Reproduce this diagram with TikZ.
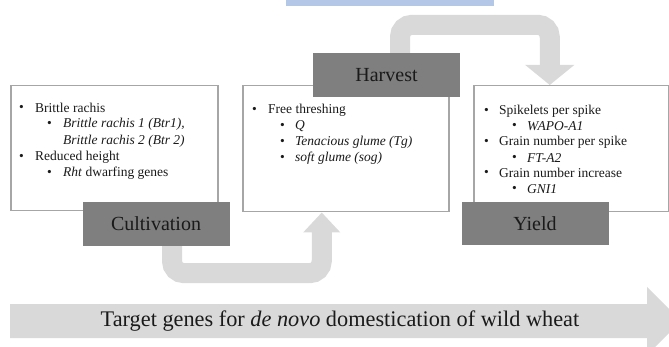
\documentclass[tikz,border=0pt]{standalone}
\usepackage{fontspec}
\setmainfont{Liberation Serif}
\usetikzlibrary{arrows.meta}

\definecolor{cadregris}{HTML}{A6A6A6}
\definecolor{etapegris}{HTML}{7F7F7F}
\definecolor{flechegris}{HTML}{D9D9D9}
\definecolor{bleupale}{HTML}{B4C7E7}
\definecolor{texte}{HTML}{1A1A1A}

\tikzset{
  cadre/.style={draw=cadregris, line width=1.5pt, fill=white, anchor=north west, inner sep=0pt},
  etape/.style={fill=etapegris, text=texte, font=\fontsize{20}{24}\selectfont, minimum width=147pt, minimum height=44pt, inner sep=0pt},
  fleche/.style={draw=flechegris, line width=20pt, rounded corners=12pt},
  ligne/.style={anchor=west, text=texte, font=\fontsize{13.5}{16}\selectfont, inner sep=0pt},
}

\begin{document}
\begin{tikzpicture}[x=1pt,y=-1pt]
    \useasboundingbox (0,0) rectangle (669,347);

    % Bande bleue en haut
    \fill[bleupale] (286,-5) rectangle (494,6);

    % Cadres des caracteres
    \node[cadre, minimum width=207pt, minimum height=125pt] (gauche) at (10,85) {};
    \node[cadre, minimum width=206pt, minimum height=126pt] (milieu) at (242,85) {};
    \node[cadre, minimum width=195pt, minimum height=126pt] (droite) at (473,85) {};

    % Etapes
    \node[etape] (recolte) at (386.5,75) {Harvest};
    \node[etape] (culture) at (156,224) {Cultivation};
    \node[etape, minimum height=43pt] (rendement) at (535,223.5) {Yield};

    % Fleches courbes
    \draw[fleche, -{Triangle[width=48pt,length=20pt]}] ([xshift=13.5pt]recolte.north) -- ++(0,-28) -| ([xshift=-21.5pt]droite.north);
    \draw[fleche, -{Triangle[width=36pt,length=20pt]}] ([xshift=16pt]culture.south) -- ++(0,27) -| ([xshift=-24pt]milieu.south);

    % Texte du cadre gauche
    \foreach \y/\t in {108/Brittle rachis, 157/Reduced height} {
        \node[ligne] (puce-g\y) at (19,\y) {•};
        \node[ligne] (gauche-\y) at (35,\y) {\t};
    }
    \foreach \y in {124,173} {
        \node[ligne] (souspuce-g\y) at (47,\y) {•};
    }
    \node[ligne] (btr1) at (63,124) {\textit{Brittle rachis 1 (Btr1),}};
    \node[ligne] (btr2) at (63,141) {\textit{Brittle rachis 2 (Btr 2)}};
    \node[ligne] (rht) at (63,173) {\textit{Rht} dwarfing genes};

    % Texte du cadre du milieu
    \node[ligne] (puce-m) at (252,110) {•};
    \node[ligne] (battage) at (268,110) {Free threshing};
    \foreach \y/\t in {126/Q, 142/{Tenacious glume (Tg)}, 158/{soft glume (sog)}} {
        \node[ligne] (souspuce-m\y) at (280,\y) {•};
        \node[ligne] (milieu-\y) at (295,\y) {\textit{\t}};
    }

    % Texte du cadre droit
    \foreach \y/\t in {111/Spikelets per spike, 142/Grain number per spike, 173/Grain number increase} {
        \node[ligne] (puce-d\y) at (484,\y) {•};
        \node[ligne] (droite-\y) at (499,\y) {\t};
    }
    \foreach \y/\t in {126/WAPO-A1, 158/FT-A2, 189/GNI1} {
        \node[ligne] (souspuce-d\y) at (512,\y) {•};
        \node[ligne] (gene-\y) at (527,\y) {\textit{\t}};
    }

    % Grande fleche en bas
    \fill[flechegris] (10,304) -- (647,304) -- (647,287) -- (681,321) -- (647,355) -- (647,338) -- (10,338) -- cycle;
    \node[text=texte, font=\fontsize{22.3}{26}\selectfont] (cible) at (340,321) {Target genes for \textit{de novo} domestication of wild wheat};
\end{tikzpicture}
\end{document}
